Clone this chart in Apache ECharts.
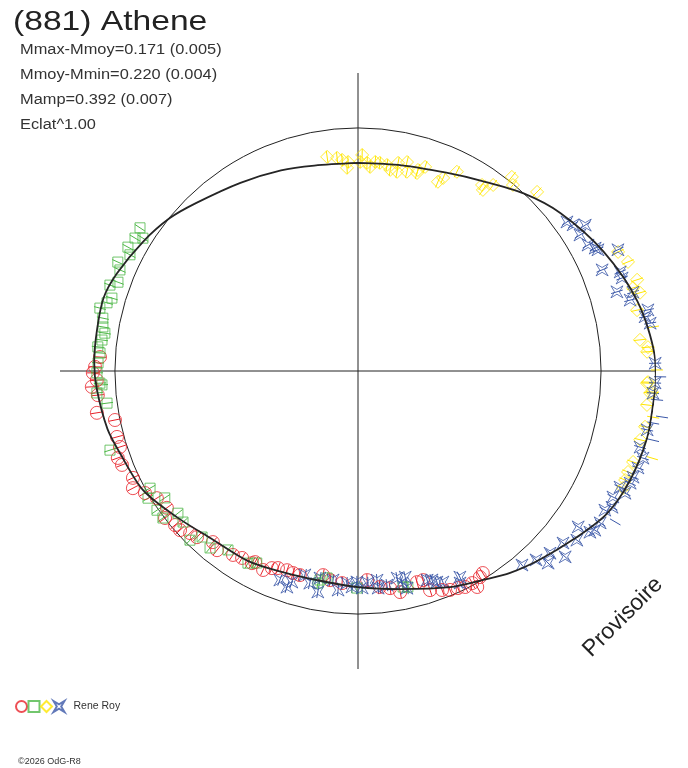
<!DOCTYPE html>
<html><head><meta charset="utf-8">
<script src="https://cdn.jsdelivr.net/npm/echarts@6/dist/echarts.min.js"></script>
<style>html,body{margin:0;padding:0;background:#fff}#c{width:688px;height:768px}</style>
</head><body><div id="c"></div>
<script>
// Polar light curve of (881) Athene: [rotational phase in degrees, relative flux (1 = mean)]
const fitCurve = [[0,0.856],[12,0.865],[24,0.893],[33,0.933],[43,0.999],[52,1.056],[64,1.123],[76,1.185],[87,1.222],[92,1.226],[96,1.222],[103,1.221],[112,1.206],[120,1.179],[128,1.125],[136,1.078],[143,1.040],[149,1.002],[157,0.966],[169,0.914],[180,0.889],[191,0.877],[200,0.883],[210,0.903],[221,0.916],[231,0.957],[241,1.011],[251,1.036],[257,1.058],[266,1.077],[272,1.086],[279,1.087],[286,1.089],[292,1.070],[301,1.032],[309,0.998],[316,0.960],[328,0.913],[339,0.884],[348,0.864],[360,0.856]];

const obsRed = [[148.3,0.977],[149.4,0.985],[151.1,1.015],[151.7,0.991],[153.6,0.992],[155.3,0.983],[157.2,0.977],[159.0,0.965],[161.8,0.949],[162.7,0.901],[164.4,0.902],[169.2,0.926],[171.6,0.903],[174.2,0.893],[177.5,0.861],[184.3,0.875],[187.6,0.868],[189.7,0.852],[195.9,0.873],[197.8,0.873],[199.6,0.870],[202.1,0.875],[203.6,0.885],[205.5,0.907],[208.3,0.893],[208.9,0.903],[211.8,0.905],[214.2,0.915],[218.2,0.938],[220.3,0.923],[224.1,0.952],[226.0,0.960],[228.2,0.982],[229.9,0.984],[232.7,0.998],[234.4,0.967],[237.7,0.979],[240.2,1.010],[242.5,1.044],[244.6,1.025],[248.3,1.045],[250.1,1.051],[252.3,1.028],[254.7,1.028],[258.6,1.020],[260.9,1.088],[264.7,1.075],[266.6,1.097],[268.0,1.075],[269.6,1.091],[270.9,1.082],[273.1,1.063]];

const obsGreen = [[167.0,0.912],[168.2,0.908],[180.3,0.893],[188.5,0.861],[190.3,0.874],[190.7,0.888],[207.8,0.893],[209.8,0.911],[216.0,0.910],[219.9,0.949],[223.2,0.937],[224.8,0.981],[229.2,0.951],[231.7,0.944],[233.0,1.005],[235.3,1.006],[236.7,0.951],[238.8,1.010],[240.6,0.982],[252.3,1.071],[262.7,1.041],[265.2,1.078],[266.9,1.055],[267.3,1.063],[269.6,1.074],[271.8,1.070],[274.0,1.064],[275.3,1.075],[276.9,1.061],[278.5,1.053],[279.8,1.065],[281.7,1.072],[283.7,1.093],[285.2,1.070],[286.5,1.056],[289.1,1.080],[290.3,1.053],[293.0,1.064],[294.4,1.085],[297.0,1.053],[298.3,1.075],[300.8,1.068],[301.7,1.040],[303.3,1.073]];

const obsYellow = [[351.8,0.890],[354.4,0.881],[355.7,0.871],[357.3,0.861],[356.9,0.837],[1.1,0.889],[0.6,0.860],[2.5,0.857],[3.4,0.841],[4.7,0.863],[6.0,0.861],[8.0,0.856],[9.1,0.838],[11.1,0.835],[10.9,0.872],[13.2,0.883],[13.8,0.844],[16.6,0.850],[16.6,0.863],[18.2,0.884],[22.9,0.845],[23.8,0.868],[26.4,0.915],[33.7,0.920],[34.6,0.905],[36.0,0.946],[38.4,1.019],[39.8,0.996],[45.0,1.042],[65.4,1.177],[68.0,1.198],[71.9,1.208],[73.2,1.182],[74.5,1.204],[77.7,1.175],[81.5,1.227],[83.7,1.167],[85.3,1.197],[86.2,1.192],[89.8,1.230],[92.2,1.194],[94.1,1.213],[92.4,1.190],[94.3,1.205],[96.7,1.197],[98.9,1.229],[101.0,1.203],[103.7,1.195],[106.5,1.262],[108.3,1.192],[110.5,1.186],[112.2,1.187],[113.8,1.192]];

const obsBlue = [[54.5,1.056],[55.8,1.070],[57.3,1.111],[58.5,1.071],[61.3,1.079],[62.6,1.099],[63.2,1.106],[65.0,1.180],[67.5,1.087],[69.3,1.153],[70.6,1.152],[73.0,1.114],[74.0,1.177],[75.4,1.157],[78.1,1.219],[79.3,1.202],[80.7,1.218],[88.5,1.223],[91.1,1.243],[92.3,1.223],[94.3,1.217],[95.5,1.236],[98.6,1.265],[100.0,1.233],[101.5,1.214],[103.2,1.247],[105.1,1.202],[107.0,1.226],[109.1,1.219],[111.1,1.213],[112.4,1.211],[113.9,1.179],[114.6,1.208],[116.3,1.170],[118.2,1.186],[119.4,1.166],[120.4,1.227],[122.1,1.176],[123.9,1.174],[124.8,1.162],[125.3,1.110],[127.7,1.138],[130.0,1.101],[131.9,1.145],[133.5,1.089],[135.3,1.112],[136.7,1.068],[139.8,1.045],[153.7,0.946],[154.3,0.968],[158.1,0.936],[159.5,0.927],[160.5,0.912],[161.7,0.906],[167.1,0.870],[167.3,0.916],[168.3,0.891],[169.3,0.867],[172.3,0.889],[174.7,0.897],[174.8,0.864],[177.3,0.873],[178.9,0.893],[180.3,0.868],[181.6,0.889],[183.0,0.874],[185.2,0.905],[186.8,0.866],[190.3,0.924],[190.4,0.866],[192.8,0.895],[194.6,0.867],[197.4,0.910],[198.2,0.936],[200.5,0.918]];

const sessionNames = ['Rene Roy (1)', 'Rene Roy (2)', 'Rene Roy (3)', 'Rene Roy (4)'];
const titleText = '(881) Athene';
const statLines = ['Mmax-Mmoy=0.171 (0.005)', 'Mmoy-Mmin=0.220 (0.004)', 'Mamp=0.392 (0.007)', 'Eclat^1.00'];
const fluxUncertainty = 0.025;

const FONT = '"Liberation Sans", Arial, sans-serif';
const toPolar = arr => arr.map(p => [p[1], p[0]]);
const starPath = 'path://M0,0 L5,3 L10,0 L7,5 L10,10 L5,7 L0,10 L3,5 Z';

const sessions = [
  {name: sessionNames[0], data: obsRed, color: '#e8232b', symbol: 'circle', size: 13},
  {name: sessionNames[1], data: obsGreen, color: '#4fb848', symbol: 'rect', size: 10},
  {name: sessionNames[2], data: obsYellow, color: '#ffe600', symbol: 'diamond', size: 13},
  {name: sessionNames[3], data: obsBlue, color: '#3b58a8', symbol: starPath, size: 12}
];

const series = [];
sessions.forEach(s => {
  series.push({
    type: 'custom', coordinateSystem: 'polar', silent: true, z: 2,
    data: toPolar(s.data),
    encode: {radius: 0, angle: 1},
    renderItem: (params, api) => {
      const r = api.value(0), a = api.value(1);
      const p1 = api.coord([r - fluxUncertainty, a]);
      const p2 = api.coord([r + fluxUncertainty, a]);
      return {type: 'line', shape: {x1: p1[0], y1: p1[1], x2: p2[0], y2: p2[1]}, style: {stroke: s.color, lineWidth: 1}};
    }
  });
});
sessions.forEach(s => {
  series.push({
    name: s.name, type: 'scatter', coordinateSystem: 'polar', z: 3,
    data: toPolar(s.data),
    symbol: s.symbol, symbolSize: s.size,
    itemStyle: {color: 'rgba(0,0,0,0)', borderColor: s.color, borderWidth: 1}
  });
});
series.push({
  name: 'fit', type: 'line', coordinateSystem: 'polar', z: 4,
  data: toPolar(fitCurve), smooth: 0.3, symbol: 'none',
  lineStyle: {color: '#252525', width: 1.8}
});

const graphics = [
  {type: 'text', x: 13, y: 22, scaleX: 1.2, style: {text: titleText, fontFamily: FONT, fontSize: 28, fill: '#222', align: 'left', verticalAlign: 'middle'}}
];
statLines.forEach((t, i) => {
  graphics.push({type: 'text', x: 20, y: 50 + i * 25, scaleX: 1.17, style: {text: t, fontFamily: FONT, fontSize: 14, fill: '#333', align: 'left', verticalAlign: 'middle'}});
});
graphics.push({type: 'text', x: 623, y: 617, rotation: Math.PI / 4, style: {text: 'Provisoire', fontFamily: FONT, fontSize: 23, fill: '#222', align: 'center', verticalAlign: 'middle'}});
graphics.push({type: 'text', left: 18, top: 757, style: {text: '©2026 OdG-R8', fontFamily: FONT, fontSize: 9, fill: '#333'}});

const chart = echarts.init(document.getElementById('c'));
chart.setOption({
  animation: false,
  backgroundColor: '#fff',
  polar: {center: [358, 371], radius: 298},
  angleAxis: {
    type: 'value', min: 0, max: 360, interval: 90, startAngle: 90, clockwise: true,
    axisLine: {show: false}, axisTick: {show: false}, axisLabel: {show: false},
    splitLine: {show: true, lineStyle: {color: '#222', width: 1}}
  },
  radiusAxis: {
    type: 'value', min: 0, max: 1.226, interval: 1,
    axisLine: {show: false}, axisTick: {show: false}, axisLabel: {show: false},
    splitLine: {show: true, lineStyle: {color: ['rgba(0,0,0,0)', '#222', 'rgba(0,0,0,0)'], width: 1}}
  },
  legend: {
    data: sessionNames, left: 10, top: 695, orient: 'horizontal',
    itemWidth: 11, itemHeight: 11, itemGap: -0.5, selectedMode: false,
    formatter: n => n === sessionNames[3] ? 'Rene Roy' : '',
    textStyle: {fontFamily: FONT, fontSize: 10.5, color: '#333', padding: [0, 0, 0, 4]}
  },
  series: series,
  graphic: graphics
});
</script></body></html>
